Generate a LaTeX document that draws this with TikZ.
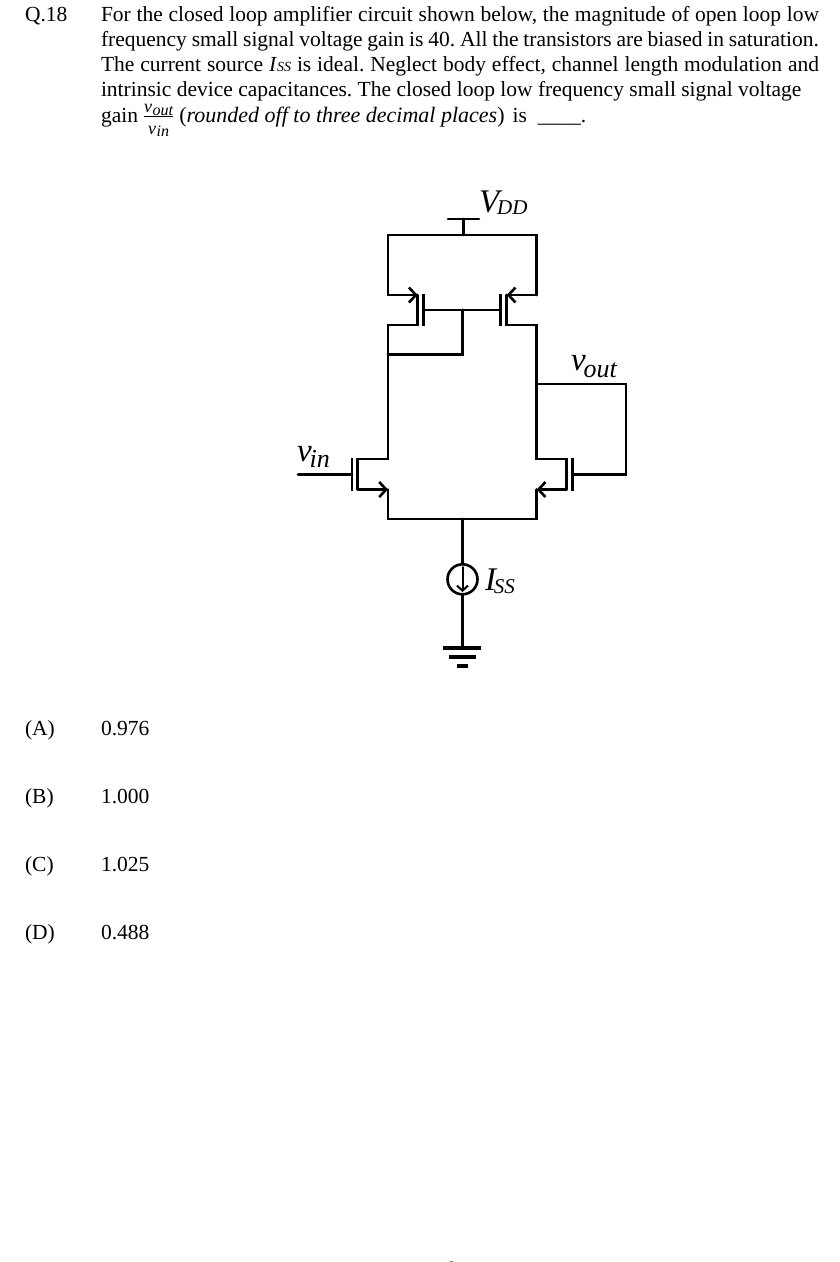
\documentclass[tikz,border=0pt]{standalone}
\usepackage{amsmath}
\usepackage{fontspec}
\setmainfont{Liberation Serif}
\usetikzlibrary{arrows.meta}
\newcommand{\biglabel}[4]{{\fontsize{33}{33}\selectfont\itshape #1}\kern-2pt\raisebox{-#4pt}{\fontsize{#3}{#3}\selectfont\itshape #2}}
\newcommand{\fraclabel}[2]{\mbox{\fontsize{18}{18}\selectfont\itshape #1\kern.5pt\raisebox{-2.5pt}{\fontsize{16}{16}\selectfont #2}}}
\tikzset{
  wire/.style={line width=2.6pt,line cap=round,line join=miter},
  plate/.style={line width=2.8pt},
  barb/.style={-{Straight Barb[length=7pt,width=15pt,line width=2.6pt]}},
  bodytext/.style={anchor=base west,inner sep=0pt,outer sep=0pt,font=\fontsize{21.5}{25}\selectfont\frenchspacing},
  biglab/.style={anchor=base west,inner sep=0pt,outer sep=0pt},
  source/.style={circle,draw,line width=2.6pt,minimum size=30pt,inner sep=0pt}
}
\begin{document}
\begin{tikzpicture}[x=1pt,y=-1pt]
      \useasboundingbox (0,0) rectangle (840,1262);
      % question text
      \node[bodytext] (qnum) at (25,21) {Q.18};
      \node[bodytext,anchor=north west,text width=718pt,align=justify] (para) at (101,6)
        {For the closed loop amplifier circuit shown below, the magnitude of open loop low\linebreak
         frequency small signal voltage gain is 40. All the transistors are biased in saturation.\linebreak
         The current source \textit{I}{\fontsize{14}{14}\selectfont\textit{SS}} is ideal. Neglect body effect, channel length modulation and\linebreak
         intrinsic device capacitances. The closed loop low frequency small signal voltage};
      \node[bodytext] (gain) at (101,122)
        {gain\kern5pt$\frac{\fraclabel{v}{out}}{\rule{0pt}{16pt}\fraclabel{v}{in}}$\kern5pt{\fontsize{22}{25}\selectfont(\textit{rounded off to three decimal places})}\kern8pt is\kern11pt\_\_\_\_.};
      % circuit points
      \path
        (448,219) coordinate (vddL)
        (479,219) coordinate (vddR)
        (463.5,219) coordinate (vddM)
        (463.5,235) coordinate (railM)
        (388,235) coordinate (railL)
        (536.7,235) coordinate (railR)
        (388,295) coordinate (s1)
        (417.7,295) coordinate (s1i)
        (417.7,325) coordinate (d1i)
        (388,325) coordinate (d1)
        (423.5,294) coordinate (p1t)
        (423.5,326) coordinate (p1b)
        (423.5,310) coordinate (g1)
        (536.7,295) coordinate (s2)
        (506.7,295) coordinate (s2i)
        (506.7,325) coordinate (d2i)
        (536.7,325) coordinate (d2)
        (500.7,294) coordinate (p2t)
        (500.7,326) coordinate (p2b)
        (500.7,310) coordinate (g2)
        (462.5,310) coordinate (gm)
        (462.5,354.5) coordinate (tieR)
        (388,354.5) coordinate (tieL)
        (388,459) coordinate (d3)
        (357.5,459) coordinate (d3i)
        (357.5,489.5) coordinate (s3i)
        (388,489.5) coordinate (s3)
        (352,458) coordinate (p3t)
        (352,490.5) coordinate (p3b)
        (352,474.5) coordinate (g3)
        (298,474.5) coordinate (vin)
        (536.7,459) coordinate (d4)
        (566.7,459) coordinate (d4i)
        (566.7,489.5) coordinate (s4i)
        (536.7,489.5) coordinate (s4)
        (572.3,458) coordinate (p4t)
        (572.3,490.5) coordinate (p4b)
        (572.3,474.5) coordinate (g4)
        (626,474.5) coordinate (fbB)
        (626,384) coordinate (fbT)
        (536.7,384) coordinate (out)
        (388,519) coordinate (tailL)
        (536.7,519) coordinate (tailR)
        (462.5,519) coordinate (tailM)
        (462.5,648) coordinate (gnd)
        (443,648) coordinate (g1L)
        (481,648) coordinate (g1R)
        (449,656.7) coordinate (g2L)
        (476,656.7) coordinate (g2R)
        (457,665.7) coordinate (g3L)
        (468,665.7) coordinate (g3R)
        (462.5,567) coordinate (iT)
        (462.5,592) coordinate (iB)
        (449.5,1261) coordinate (markL)
        (453,1261) coordinate (markR);
      \node[source] (iss) at (462.5,579.3) {};
      % labels
      \node[biglab] (vddlab) at (479,212) {\biglabel{V}{DD}{21}{2}};
      \node[biglab] (voutlab) at (571,370.5) {\biglabel{v}{out}{26}{6.5}};
      \node[biglab] (vinlab) at (297,461) {\biglabel{v}{in}{26}{6}};
      \node[biglab] (isslab) at (485,590) {\biglabel{I}{SS}{21}{3}};
      % options
      \node[bodytext] (a) at (25,735) {(A)};
      \node[bodytext] (av) at (101,735) {0.976};
      \node[bodytext] (b) at (25,803) {(B)};
      \node[bodytext] (bv) at (101,803) {1.000};
      \node[bodytext] (c) at (25,871) {(C)};
      \node[bodytext] (cv) at (101,871) {1.025};
      \node[bodytext] (d) at (25,939) {(D)};
      \node[bodytext] (dv) at (101,939) {0.488};
      \begin{scope}[wire]
        \draw (vddL) to (vddR);
        \draw (vddM) to (railM);
        \draw (s1) to (railL) to (railR) to (s2);
        \draw (s1i) to (d1i) to (d1) to (d3) to (d3i) to (s3i);
        \draw (s2i) to (d2i) to (d2) to (d4) to (d4i) to (s4i);
        \draw (g1) to (g2);
        \draw (gm) to (tieR) to (tieL);
        \draw (vin) to (g3);
        \draw (g4) to (fbB) to (fbT) to (out);
        \draw (s3) to (tailL) to (tailR) to (s4);
        \draw (tailM) to (iss);
        \draw (iss) to (gnd);
        \draw[line width=2pt,-{Straight Barb[length=5pt,width=11pt,line width=2pt]}] (iT) to (iB);
        \draw[gray,line width=1pt,line cap=butt] (markL) to (markR);
      \end{scope}
      \begin{scope}[wire,barb]
        \draw (s1) to (s1i);
        \draw (s2) to (s2i);
        \draw (s3i) to (s3);
        \draw (s4i) to (s4);
      \end{scope}
      \begin{scope}[plate]
        \draw (p1t) to (p1b);
        \draw (p2t) to (p2b);
        \draw (p3t) to (p3b);
        \draw (p4t) to (p4b);
        \draw[line width=3.6pt] (g1L) to (g1R);
        \draw[line width=3.6pt] (g2L) to (g2R);
        \draw[line width=3.6pt] (g3L) to (g3R);
      \end{scope}
    \end{tikzpicture}
\end{document}
